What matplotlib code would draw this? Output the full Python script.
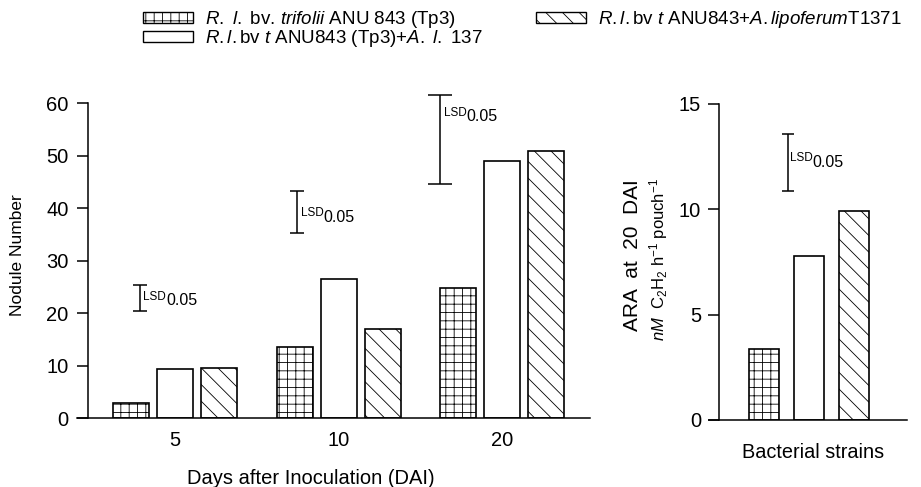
import matplotlib
matplotlib.use("Agg")
import matplotlib.pyplot as plt
from matplotlib.patches import Patch
import numpy as np

plt.rcParams['font.family'] = ['Liberation Sans', 'DejaVu Sans']
plt.rcParams['mathtext.fontset'] = 'custom'
plt.rcParams['mathtext.rm'] = 'Liberation Sans'
plt.rcParams['mathtext.it'] = 'Liberation Sans:italic'
plt.rcParams['mathtext.bf'] = 'Liberation Sans:bold'
plt.rcParams['hatch.linewidth'] = 0.6

# ---------------- data ----------------
days = ["5", "10", "20"]
nod_tp3 = [3.0, 13.6, 24.8]
nod_al137 = [9.4, 26.6, 48.9]
nod_t1371 = [9.6, 17.1, 50.8]

# LSD bars (left panel): low, high values
lsd_low = [20.5, 35.3, 44.6]
lsd_high = [25.3, 43.2, 61.6]

ara_values = [3.36, 7.78, 9.93]
ara_lsd_low = [10.88]
ara_lsd_high = [13.57]

left_yticks = [0, 10, 20, 30, 40, 50, 60]
right_yticks = [0, 5, 10, 15]

labels = [
    r"$\mathit{R.\ l.}$ bv. $\mathit{trifolii}$ ANU 843 (Tp3)",
    r"$\mathit{R.l.}$bv $\mathit{t}$ ANU843 (Tp3)+$\mathit{A.\ l.}$ 137",
    r"$\mathit{R.l.}$bv $\mathit{t}$ ANU843+$\mathit{A.lipoferum}$T1371",
]
hatches = ['++', '', '\\\\']

# ---------------- figure ----------------
fig = plt.figure(figsize=(9.21, 4.87), dpi=100)
axL = fig.add_axes([0.09555, 0.1407, 0.5451, 0.6478])
axR = fig.add_axes([0.7810, 0.1376, 0.2038, 0.6489])

edge_lw = 1.2
tick_fs = 14.5
x = np.arange(len(days))
w = 0.22
off = 0.269
for i, (vals, h) in enumerate(zip([nod_tp3, nod_al137, nod_t1371], hatches)):
    axL.bar(x + (i - 1) * off, vals, width=w, facecolor='white',
            edgecolor='black', linewidth=edge_lw, hatch=h, zorder=2)

axL.set_xlim(-0.532, 2.538)
axL.set_ylim(0, 60)
axL.set_yticks(left_yticks)
axL.set_xticks(x)
axL.set_xticklabels(days)
axL.tick_params(axis='y', direction='out', length=8, width=1.1, pad=6, labelsize=tick_fs)
axL.tick_params(axis='x', length=0, pad=9, labelsize=tick_fs)
for s in ['top', 'right', 'bottom']:
    axL.spines[s].set_visible(False)
axL.spines['left'].set_linewidth(1.1)
axL.plot([-0.022, 1.0], [0, 0], transform=axL.get_yaxis_transform(),
         color='black', lw=1.1, clip_on=False, zorder=3)


def lsd_label(ax, xi, ytop, dx):
    t = ax.annotate("LSD", xy=(xi, ytop), xytext=(dx, 0), textcoords='offset points',
                    fontsize=8.5, va='top', ha='left', annotation_clip=False)
    ax.annotate("0.05", xy=(1, 0.15), xycoords=t, xytext=(0, 0),
                textcoords='offset points', fontsize=11.5, va='center', ha='left')


# LSD bars left (x = group index + offset)
lsd_x = x + np.array([-0.214, -0.251, -0.379])
lsd_caps = [9.4, 10, 17]
lsd_text_top = [24.3, 40.2, 59.3]
for xi, lo, hi, cs, tt in zip(lsd_x, lsd_low, lsd_high, lsd_caps, lsd_text_top):
    mid = (lo + hi) / 2
    axL.errorbar([xi], [mid], yerr=[[mid - lo], [hi - mid]], fmt='none',
                 ecolor='black', elinewidth=1.1, capsize=cs / 2, capthick=1.1,
                 clip_on=False)
    lsd_label(axL, xi, tt, 2.5)

# Right panel
xr = np.arange(len(ara_values))
for i in range(3):
    axR.bar(xr[i], ara_values[i], width=0.667, facecolor='white',
            edgecolor='black', linewidth=edge_lw, hatch=hatches[i], zorder=2)
axR.set_xlim(-0.993, 3.18)
axR.set_ylim(0, 15)
axR.set_yticks(right_yticks)
axR.set_xticks([])
axR.tick_params(axis='y', direction='out', length=8, width=1.1, pad=5, labelsize=tick_fs)
for s in ['top', 'right', 'bottom']:
    axR.spines[s].set_visible(False)
axR.spines['left'].set_linewidth(1.1)
axR.plot([-0.055, 1.0], [0, 0], transform=axR.get_yaxis_transform(),
         color='black', lw=1.1, clip_on=False, zorder=3)

rx = 0.527
mid = (ara_lsd_low[0] + ara_lsd_high[0]) / 2
axR.errorbar([rx], [mid], yerr=[[mid - ara_lsd_low[0]], [ara_lsd_high[0] - mid]],
             fmt='none', ecolor='black', elinewidth=1.1, capsize=4, capthick=1.1)
lsd_label(axR, rx, 12.7, 1.5)

# Labels
fig.text(18 / 921, 1 - 255 / 487, "Nodule Number", rotation=90, fontsize=12.5,
         ha='center', va='center')
fig.text(311 / 921, 1 - 478 / 487, "Days after Inoculation (DAI)", fontsize=14.5,
         ha='center', va='center')
fig.text(813 / 921, 1 - 452 / 487, "Bacterial strains", fontsize=14.3,
         ha='center', va='center')
fig.text(632 / 921, 1 - 255 / 487, "ARA  at  20  DAI", rotation=90, fontsize=15,
         ha='center', va='center')
fig.text(659 / 921, 1 - 259 / 487,
         r"$\mathit{nM}$  C$_2$H$_2$ h$^{-1}$ pouch$^{-1}$",
         rotation=90, fontsize=12, ha='center', va='center')

# Legend
handles = [Patch(facecolor='white', edgecolor='black', linewidth=1.0, hatch=h)
           for h in hatches]
leg_kw = dict(frameon=False, fontsize=13.5, handlelength=2.67, handleheight=0.55,
              handletextpad=0.65, labelspacing=-0.1, borderpad=0, borderaxespad=0,
              loc='upper left')
fig.legend(handles[:2], labels[:2], bbox_to_anchor=(143 / 921, 1 - 9 / 487), **leg_kw)
fig.legend(handles[2:], labels[2:], bbox_to_anchor=(536 / 921, 1 - 9 / 487), **leg_kw)

fig.savefig("out.png", dpi=100)
